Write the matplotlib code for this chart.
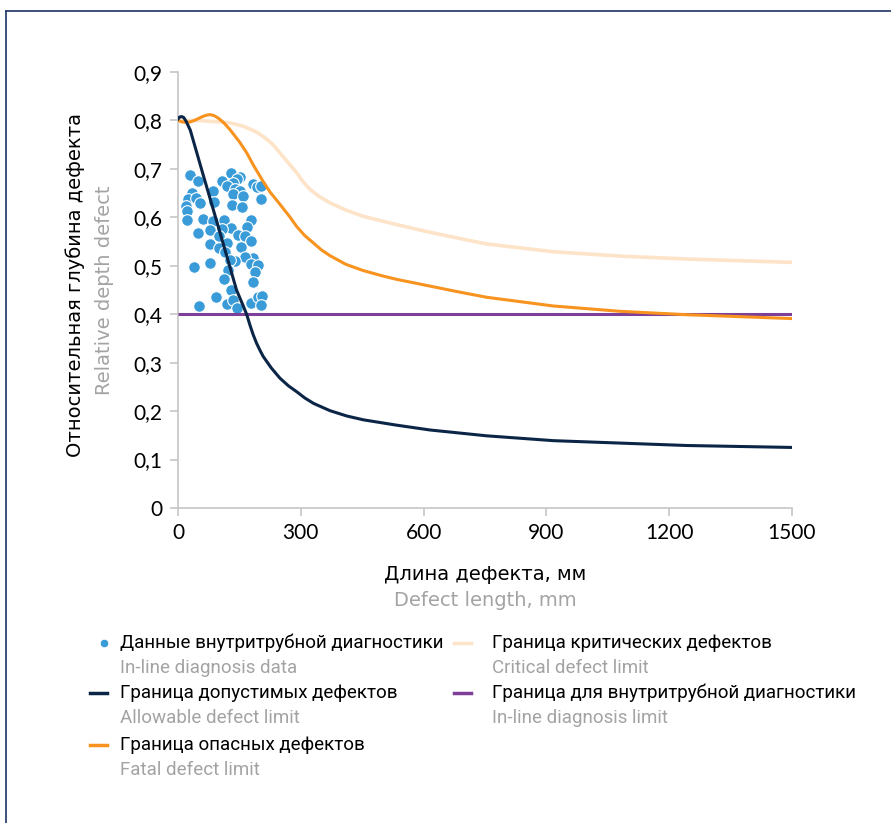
import matplotlib
matplotlib.use("Agg")
import matplotlib.pyplot as plt
from matplotlib.lines import Line2D
from matplotlib.ticker import FuncFormatter

# in-line diagnosis data (defect length mm, relative depth)
scatter_x = [29, 48, 107, 130, 152, 143, 135, 119, 139, 152, 135, 158, 184, 194, 202, 202,
             86, 33, 25, 44, 54, 89, 19, 23, 133, 157, 23, 62, 85, 113, 178, 168, 129, 78,
             107, 50, 100, 146, 164, 178, 77, 119, 99, 153, 115, 184, 164, 139, 178, 196,
             187, 40, 77, 127, 123, 113, 184, 130, 92, 51, 119, 135, 143, 178, 195, 205, 202]
scatter_y = [0.688, 0.675, 0.675, 0.691, 0.684, 0.679, 0.671, 0.665, 0.658, 0.654, 0.649,
             0.645, 0.669, 0.663, 0.665, 0.638, 0.654, 0.651, 0.638, 0.640, 0.630, 0.632,
             0.623, 0.614, 0.626, 0.622, 0.594, 0.596, 0.592, 0.594, 0.595, 0.581, 0.579,
             0.573, 0.576, 0.568, 0.561, 0.563, 0.561, 0.552, 0.545, 0.548, 0.537, 0.539,
             0.529, 0.517, 0.519, 0.510, 0.503, 0.501, 0.488, 0.498, 0.506, 0.511, 0.492,
             0.473, 0.467, 0.449, 0.435, 0.418, 0.421, 0.429, 0.413, 0.424, 0.435, 0.438, 0.420]

# allowable defect limit
allow_x = [0, 4, 9, 14, 20, 30, 60, 100, 143, 160, 168, 176, 184, 192, 200, 208, 228, 249,
           270, 290, 310, 331, 371, 412, 453, 534, 616, 754, 917, 1080, 1243, 1500]
allow_y = [0.803, 0.807, 0.808, 0.806, 0.798, 0.780, 0.692, 0.576, 0.450, 0.416, 0.399,
           0.377, 0.357, 0.340, 0.326, 0.313, 0.289, 0.268, 0.252, 0.240, 0.227, 0.216,
           0.201, 0.190, 0.182, 0.171, 0.161, 0.149, 0.139, 0.134, 0.129, 0.125]

# fatal defect limit
fatal_x = [0, 10, 20, 30, 40, 50, 60, 70, 78, 88, 98, 111, 127, 150, 168, 184, 208, 225,
           249, 274, 290, 310, 331, 350, 371, 410, 453, 500, 534, 575, 616, 680, 754, 917,
           1080, 1243, 1500]
fatal_y = [0.800, 0.797, 0.796, 0.797, 0.800, 0.804, 0.808, 0.811, 0.812, 0.810, 0.805,
           0.796, 0.781, 0.756, 0.733, 0.708, 0.674, 0.652, 0.627, 0.600, 0.581, 0.562,
           0.547, 0.533, 0.521, 0.503, 0.490, 0.479, 0.472, 0.465, 0.458, 0.447, 0.435,
           0.417, 0.406, 0.399, 0.391]

# critical defect limit
crit_x = [0, 50, 100, 127, 160, 190, 208, 230, 249, 270, 290, 305, 322, 345, 371, 410,
          453, 534, 616, 754, 917, 1080, 1243, 1500]
crit_y = [0.800, 0.800, 0.797, 0.795, 0.788, 0.777, 0.767, 0.752, 0.733, 0.712, 0.692,
          0.674, 0.658, 0.643, 0.630, 0.615, 0.602, 0.585, 0.569, 0.545, 0.529, 0.520,
          0.514, 0.507]

# in-line diagnosis limit
ild_x = [0, 1500]
ild_y = [0.4, 0.4]

x_ticks = [0, 300, 600, 900, 1200, 1500]
y_ticks = [0, 0.1, 0.2, 0.3, 0.4, 0.5, 0.6, 0.7, 0.8, 0.9]

NAVY = '#0b2547'
ORANGE = '#f7931e'
PEACH = '#fde4c9'
PURPLE = '#7d3f98'
BLUE = '#3a9bd9'
GREY = '#a3a3a3'
AXGREY = '#c6c6c6'

TXT_FONT = ['DejaVu Sans']
LEG_FONT = ['Roboto', 'DejaVu Sans']
TICK_FONT = ['Lato', 'DejaVu Sans']

W, H = 891, 823
fig = plt.figure(figsize=(W / 100, H / 100), dpi=100)
ax = fig.add_axes([178 / W, 1 - 508 / H, 614 / W, 436 / H])

ax.plot(ild_x, ild_y, color=PURPLE, lw=2.2, zorder=3, solid_capstyle='butt')
ax.plot(crit_x, crit_y, color=PEACH, lw=2.6, zorder=3)
ax.plot(fatal_x, fatal_y, color=ORANGE, lw=2.2, zorder=4)
ax.scatter(scatter_x, scatter_y, s=70, color=BLUE, edgecolors='white', linewidths=0.8, zorder=2)
ax.plot(allow_x, allow_y, color=NAVY, lw=2.2, zorder=5)

ax.set_xlim(0, 1500)
ax.set_ylim(0, 0.9)
ax.set_xticks(x_ticks)
ax.set_yticks(y_ticks)
ax.yaxis.set_major_formatter(FuncFormatter(lambda v, p: ('%g' % round(v, 1)).replace('.', ',')))
ax.xaxis.set_major_formatter(FuncFormatter(lambda v, p: '%d' % v))
for s in ['top', 'right']:
    ax.spines[s].set_visible(False)
for s in ['left', 'bottom']:
    ax.spines[s].set_color(AXGREY)
    ax.spines[s].set_linewidth(1.2)
ax.tick_params(axis='both', length=6, width=1.2, color=AXGREY, labelsize=15, pad=5)
for lab in ax.get_xticklabels() + ax.get_yticklabels():
    lab.set_family(TICK_FONT)

# axis titles (russian + english)
fig.text(75 / W, 1 - 285 / H, 'Относительная глубина дефекта', rotation=90,
         ha='center', va='center', fontsize=14, family=TXT_FONT, color='black')
fig.text(104 / W, 1 - 290 / H, 'Relative depth defect', rotation=90,
         ha='center', va='center', fontsize=14, family=TXT_FONT, color=GREY)
fig.text(485 / W, 1 - 575 / H, 'Длина дефекта, мм', ha='center', va='center',
         fontsize=14, family=TXT_FONT, color='black')
fig.text(485 / W, 1 - 601 / H, 'Defect length, mm', ha='center', va='center',
         fontsize=14, family=TXT_FONT, color=GREY)

# legend drawn by hand: two text lines per entry
legend_items = [
    ('dot', BLUE, 'Данные внутритрубной диагностики', 'In-line diagnosis data', 104, 120, 643),
    ('line', NAVY, 'Граница допустимых дефектов', 'Allowable defect limit', 104, 120, 693),
    ('line', ORANGE, 'Граница опасных дефектов', 'Fatal defect limit', 104, 120, 745),
    ('line', PEACH, 'Граница критических дефектов', 'Critical defect limit', 468, 492, 643),
    ('line', PURPLE, 'Граница для внутритрубной диагностики', 'In-line diagnosis limit', 468, 492, 693),
]
for kind, col, ru, en, mx, tx, ty in legend_items:
    if kind == 'dot':
        fig.add_artist(Line2D([mx / W], [1 - ty / H], marker='o', markersize=6,
                              color=col, markeredgecolor='white', markeredgewidth=0.5, lw=0))
    else:
        fig.add_artist(Line2D([(mx - 14) / W, (mx + 3) / W], [1 - ty / H, 1 - ty / H],
                              color=col, lw=2.5))
    fig.text(tx / W, 1 - ty / H, ru, ha='left', va='center', fontsize=13.5,
             family=LEG_FONT, color='black')
    fig.text(tx / W, 1 - (ty + 25) / H, en, ha='left', va='center', fontsize=13.5,
             family=LEG_FONT, color=GREY)

# thin frame on top and left edge
fig.add_artist(Line2D([5.5 / W, 1], [1 - 11 / H, 1 - 11 / H], color='#1d3563', lw=1.2))
fig.add_artist(Line2D([5.5 / W, 5.5 / W], [0, 1 - 11 / H], color='#1d3563', lw=1.2))

fig.savefig('out.png', dpi=100)
